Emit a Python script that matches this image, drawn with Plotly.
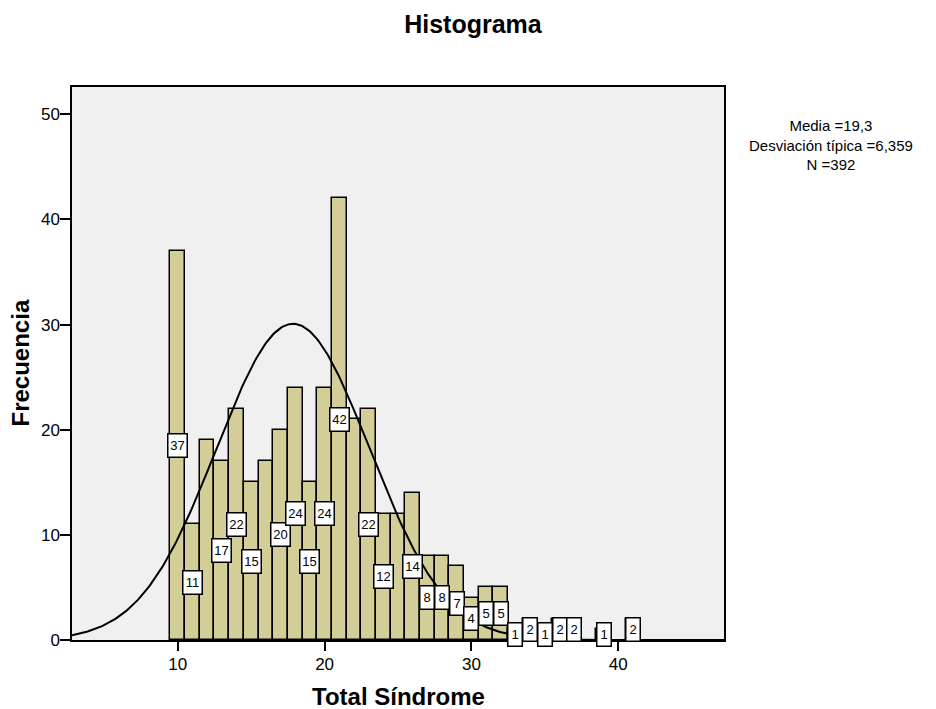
import numpy as np
import plotly.graph_objects as go

# ---------------- data ----------------
scores = [10, 11, 12, 13, 14, 15, 16, 17, 18, 19, 20, 21, 22, 23, 24, 25, 26,
          27, 28, 29, 30, 31, 32, 33, 34, 35, 36, 37, 39, 41]
counts = [37, 11, 19, 17, 22, 15, 17, 20, 24, 15, 24, 42, 21, 22, 12, 12, 14,
          8, 8, 7, 4, 5, 5, 1, 2, 1, 2, 2, 1, 2]
# bars whose count is printed in a box (some are skipped in the original)
labelled = [1, 1, 0, 1, 1, 1, 0, 1, 1, 1, 1, 1, 0, 1, 1, 0, 1,
            1, 1, 1, 1, 1, 1, 1, 1, 1, 1, 1, 1, 1]
x_ticks = [10, 20, 30, 40]
y_ticks = [0, 10, 20, 30, 40, 50]

# normal curve as drawn in the chart
curve_mean = 17.85
curve_sd = 5.2
n_total = 392
bin_width = 1

stats_text = "Media =19,3<br>Desviación típica =6,359<br>N =392"
title_text = "Histograma"
x_title = "Total Síndrome"
y_title = "Frecuencia"

# ---------------- figure ----------------
FONT = "Liberation Sans, Arial, sans-serif"
x_range = [2.8, 47.2]
y_range = [0, 52.6]

fig = go.Figure()

fig.add_trace(go.Bar(
    x=scores, y=counts, width=bin_width,
    marker=dict(color="#D3CE98", line=dict(color="black", width=1.5)),
    hoverinfo="x+y", showlegend=False,
))

xc = np.linspace(x_range[0], x_range[1], 400)
yc = n_total * bin_width / (curve_sd * np.sqrt(2 * np.pi)) * np.exp(-0.5 * ((xc - curve_mean) / curve_sd) ** 2)
fig.add_trace(go.Scatter(
    x=xc, y=yc, mode="lines", line=dict(color="black", width=2),
    hoverinfo="skip", showlegend=False,
))

annotations = []
for s, c, lab in zip(scores, counts, labelled):
    if not lab:
        continue
    txt = str(c)
    annotations.append(dict(
        x=s, y=c / 2, xref="x", yref="y", text=txt, showarrow=False,
        font=dict(family=FONT, size=13, color="black"),
        bgcolor="white", bordercolor="black", borderwidth=1.5, borderpad=1,
        width=16 if len(txt) > 1 else 11, height=20,
        xanchor="center", yanchor="middle",
    ))

# stats block
annotations.append(dict(
    x=(831 - 72) / 652, y=(640 - 115) / 553, xref="paper", yref="paper",
    text=stats_text, showarrow=False, align="center",
    xanchor="center", yanchor="top",
    font=dict(family=FONT, size=15, color="black"),
))
# axis titles
annotations.append(dict(
    x=0.5, y=0, xref="paper", yref="paper", text="<b>%s</b>" % x_title,
    showarrow=False, xanchor="center", yanchor="middle", yshift=-56,
    font=dict(family=FONT, size=24, color="black"),
))
annotations.append(dict(
    x=0, y=0.5, xref="paper", yref="paper", text="<b>%s</b>" % y_title,
    showarrow=False, xanchor="center", yanchor="middle", xshift=-52,
    textangle=-90, font=dict(family=FONT, size=24, color="black"),
))

fig.update_layout(
    width=936, height=709,
    margin=dict(l=72, r=212, t=87, b=69, pad=0),
    paper_bgcolor="white", plot_bgcolor="#F0F0F0",
    title=dict(text="<b>%s</b>" % title_text, x=473 / 936, xref="container",
               y=1 - 24 / 709, yref="container", xanchor="center", yanchor="middle",
               font=dict(family=FONT, size=25, color="black")),
    bargap=0, showlegend=False,
    annotations=annotations,
    font=dict(family=FONT, color="black"),
)
fig.update_xaxes(
    range=x_range, tickmode="array", tickvals=x_ticks,
    ticks="outside", ticklen=9, tickwidth=1.5, tickcolor="black",
    showline=True, linecolor="black", linewidth=1.5, mirror=True,
    showgrid=False, zeroline=False, ticklabelstandoff=-1,
    tickfont=dict(family=FONT, size=17, color="black"),
)
fig.update_yaxes(
    range=y_range, tickmode="array", tickvals=y_ticks,
    ticks="outside", ticklen=10, tickwidth=1.5, tickcolor="black",
    showline=True, linecolor="black", linewidth=1.5, mirror=True,
    showgrid=False, zeroline=False, ticklabelstandoff=-3,
    tickfont=dict(family=FONT, size=17, color="black"),
)

fig.write_html("out.html")
